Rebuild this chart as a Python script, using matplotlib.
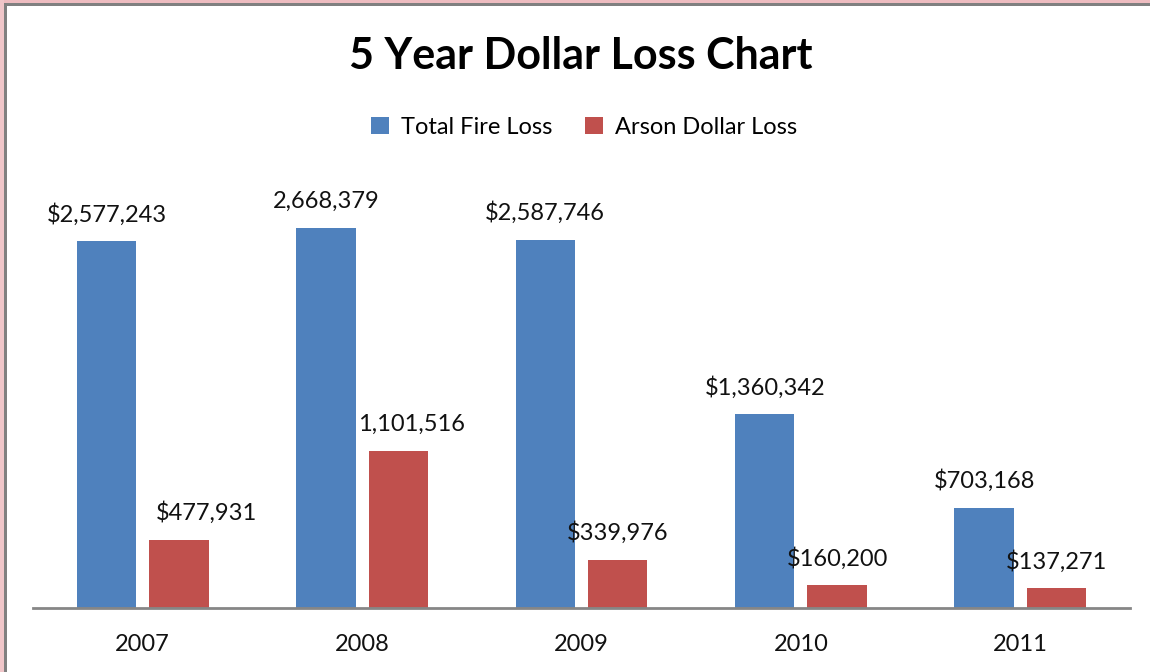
import numpy as np
import matplotlib.pyplot as plt
from matplotlib.patches import Rectangle

years = ["2007", "2008", "2009", "2010", "2011"]
total_fire_loss = [2577243, 2668379, 2587746, 1360342, 703168]
arson_loss = [477931, 1101516, 339976, 160200, 137271]
total_labels = ["$2,577,243", "2,668,379", "$2,587,746", "$1,360,342", "$703,168"]
arson_labels = ["$477,931", "1,101,516", "$339,976", "$160,200", "$137,271"]

blue = "#4F81BD"
red = "#C0504D"
font = ["Lato", "DejaVu Sans"]
plt.rcParams['font.family'] = font

fig = plt.figure(figsize=(11.5, 6.72), dpi=100)
ax = fig.add_axes([0.0287, 0.0952, 0.9539, 0.6355])

x = np.arange(len(years))
w = 0.27
b1 = ax.bar(x - 0.165, total_fire_loss, w, color=blue, label="Total Fire Loss")
b2 = ax.bar(x + 0.165, arson_loss, w, color=red, label="Arson Dollar Loss")

# label x shifts (pixels) - excel pushed a couple of them sideways
arson_shift = [28, 13, 0, 0, 0]
for i in range(len(years)):
    ax.annotate(total_labels[i], (x[i] - 0.165, total_fire_loss[i]),
                xytext=(0, 27), textcoords="offset pixels",
                ha="center", va="center", fontsize=17, color="#111111")
    ax.annotate(arson_labels[i], (x[i] + 0.165, arson_loss[i]),
                xytext=(arson_shift[i], 27), textcoords="offset pixels",
                ha="center", va="center", fontsize=17, color="#111111")

ax.set_xlim(-0.5, 4.5)
ax.set_ylim(0, 3000000)
ax.set_xticks(x)
ax.set_xticklabels(years, fontsize=17, color="#111111")
ax.tick_params(axis="x", length=0, pad=19)
ax.set_yticks([])
for s in ["top", "right", "left"]:
    ax.spines[s].set_visible(False)
ax.spines["bottom"].set_color("#868686")
ax.spines["bottom"].set_linewidth(2)

fig.text(0.505, 0.917, "5 Year Dollar Loss Chart", ha="center", va="center",
         fontsize=31, fontweight="bold", color="#000000")

fig.legend(handles=[b1, b2], loc="center", bbox_to_anchor=(0.508, 0.811),
           ncol=2, frameon=False, fontsize=17, handlelength=0.75, handleheight=0.75,
           columnspacing=1.4, handletextpad=0.5)

# window-ish frame at top and left (pixel sized rectangles)
W, H = 1150, 672
def px_rect(x0, y0, w_, h_, c):
    fig.patches.append(Rectangle((x0 / W, 1 - (y0 + h_) / H), w_ / W, h_ / H,
                                 transform=fig.transFigure, facecolor=c, lw=0))

px_rect(0, 0, W, 3, "#EEBCC0")
px_rect(0, 0, 4, H, "#F0C6C9")
px_rect(4, 3, W - 4, 3, "#808080")
px_rect(4, 3, 3, H - 3, "#808080")

fig.savefig("out.png", dpi=100)
